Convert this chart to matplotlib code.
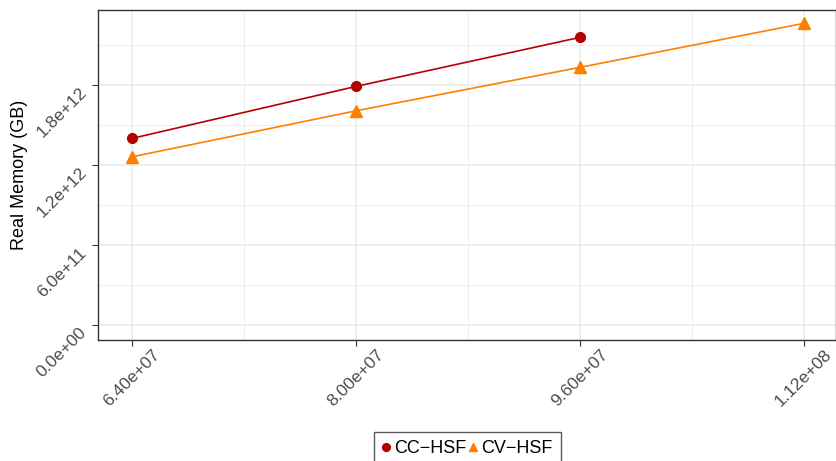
import matplotlib.pyplot as plt
from matplotlib.ticker import FixedLocator

plt.rcParams['font.family'] = ['Liberation Sans', 'DejaVu Sans']

cc_x = [6.4e7, 8.0e7, 9.6e7]
cc_y = [1.40e12, 1.79e12, 2.158e12]
cv_x = [6.4e7, 8.0e7, 9.6e7, 1.12e8]
cv_y = [1.262e12, 1.607e12, 1.933e12, 2.263e12]

x_ticks = [6.4e7, 8.0e7, 9.6e7, 1.12e8]
x_labels = ["6.40e+07", "8.00e+07", "9.60e+07", "1.12e+08"]
y_ticks = [0, 6e11, 1.2e12, 1.8e12]
y_labels = ["0.0e+00", "6.0e+11", "1.2e+12", "1.8e+12"]

fig = plt.figure(figsize=(8.37, 4.61), dpi=100)
ax = fig.add_axes([0.1171, 0.2625, 0.8817, 0.7155])

ax.plot(cc_x, cc_y, color='#B30000', lw=1.2, marker='o', ms=7, label='CC\u2212HSF', zorder=3)
ax.plot(cv_x, cv_y, color='#FF7F00', lw=1.2, marker='^', ms=8, label='CV\u2212HSF', zorder=3)

ax.set_xlim(6.157e7, 1.1431e8)
ax.set_ylim(-1.125e11, 2.3625e12)

ax.set_xticks(x_ticks)
ax.set_xticklabels(x_labels)
ax.set_yticks(y_ticks)
ax.set_yticklabels(y_labels)
ax.xaxis.set_minor_locator(FixedLocator([7.2e7, 8.8e7, 1.04e8]))
ax.yaxis.set_minor_locator(FixedLocator([3e11, 9e11, 1.5e12, 2.1e12]))

ax.grid(which='major', color='#ebebeb', lw=1.1, zorder=0)
ax.grid(which='minor', color='#ebebeb', lw=0.6, zorder=0)
ax.set_axisbelow(True)

for s in ax.spines.values():
    s.set_color('#333333')
    s.set_linewidth(1.0)

ax.tick_params(which='major', length=4, width=0.8, color='#333333', labelsize=12.5, labelcolor='#4d4d4d')
ax.tick_params(axis='x', which='major', pad=1)
ax.tick_params(axis='y', which='major', pad=2)
ax.tick_params(which='minor', length=0)

for lab in ax.get_xticklabels():
    lab.set_rotation(45)
    lab.set_ha('center')
    lab.set_va('top')
for lab in ax.get_yticklabels():
    lab.set_rotation(45)
    lab.set_ha('right')
    lab.set_va('top')

ax.set_ylabel('Real Memory (GB)', fontsize=13)
ax.yaxis.set_label_coords(-0.095, 0.5)

fig.legend(loc='upper center', bbox_to_anchor=(0.558, 0.0824), ncol=2,
           frameon=True, fancybox=False, edgecolor='#333333', fontsize=13,
           handlelength=0.5, handletextpad=0.2, columnspacing=0.1,
           borderpad=0.45, markerscale=0.8)
for h in fig.legends[0].get_lines():
    h.set_linestyle('none')

fig.savefig('out.png', dpi=100)
